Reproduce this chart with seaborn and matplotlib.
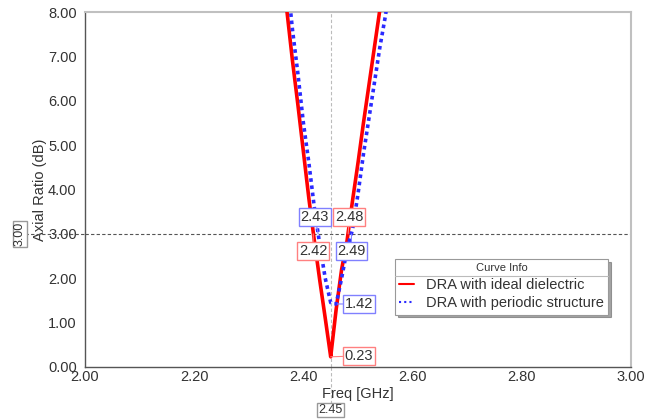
import numpy as np
import pandas as pd
import seaborn as sns
import matplotlib.pyplot as plt
from matplotlib.ticker import MultipleLocator, FormatStrFormatter
from matplotlib.lines import Line2D

# ---- data ----
freq_ideal = [2.36, 2.37, 2.38, 2.39, 2.40, 2.41, 2.42, 2.43, 2.44, 2.45,
              2.46, 2.47, 2.48, 2.49, 2.50, 2.51, 2.52, 2.53, 2.54, 2.55]
ar_ideal = [9.0, 8.0, 6.9, 5.9, 4.85, 3.8, 2.85, 1.95, 1.1, 0.23,
            1.3, 2.2, 2.85, 3.75, 4.6, 5.5, 6.35, 7.2, 8.05, 8.9]
freq_periodic = [2.36, 2.37, 2.38, 2.39, 2.40, 2.41, 2.42, 2.43, 2.44, 2.45,
                 2.46, 2.47, 2.48, 2.49, 2.50, 2.51, 2.52, 2.53, 2.54, 2.55, 2.56]
ar_periodic = [9.8, 8.8, 7.6, 6.6, 5.5, 4.6, 3.6, 2.75, 2.0, 1.45,
               1.42, 2.0, 2.65, 3.1, 3.9, 4.8, 5.6, 6.4, 7.2, 7.9, 8.7]
series_names = ["DRA with ideal dielectric", "DRA with periodic structure"]
x_ticks = [2.00, 2.20, 2.40, 2.60, 2.80, 3.00]
y_ticks = [0, 1, 2, 3, 4, 5, 6, 7, 8]
# markers: (label, point x, point y, box x, box y, series index)
markers = [
    ("2.43", 2.427, 3.0, 2.421, 3.38, 1),
    ("2.48", 2.482, 3.0, 2.484, 3.38, 0),
    ("2.42", 2.418, 3.0, 2.4176, 2.61, 0),
    ("2.49", 2.488, 3.0, 2.488, 2.61, 1),
    ("1.42", 2.462, 1.42, 2.502, 1.42, 1),
    ("0.23", 2.450, 0.23, 2.502, 0.25, 0),
]
ref_y = 3.00
ref_x = 2.45

df = pd.concat([
    pd.DataFrame({"Freq": freq_ideal, "AR": ar_ideal, "Curve": series_names[0]}),
    pd.DataFrame({"Freq": freq_periodic, "AR": ar_periodic, "Curve": series_names[1]}),
])

sns.set_theme(style="white")
plt.rcParams['font.family'] = ['Liberation Sans', 'DejaVu Sans']

fig = plt.figure(figsize=(6.57, 4.20), dpi=100)
ax = fig.add_axes([85/657, 1-367/420, (631-85)/657, (367-12)/420])

red = "#ff0000"
blue = "#2a2aff"
ax.axhline(ref_y, color="#555555", lw=0.8, ls=(0, (3, 2)), zorder=1)
ax.axvline(ref_x, color="#bbbbbb", lw=0.8, ls=(0, (3, 2)), zorder=1)

sns.lineplot(data=df, x="Freq", y="AR", hue="Curve", style="Curve",
             palette=[red, blue], dashes=[(1, 0), (1, 1)], lw=2.6,
             ax=ax, legend=False, sort=False, zorder=3)

ax.set_xlim(2.0, 3.0)
ax.set_ylim(0, 8)
ax.set_xticks(x_ticks)
ax.set_yticks(y_ticks)
ax.xaxis.set_major_formatter(FormatStrFormatter('%.2f'))
ax.yaxis.set_major_formatter(FormatStrFormatter('%.2f'))
ax.xaxis.set_minor_locator(MultipleLocator(0.04))
ax.yaxis.set_minor_locator(MultipleLocator(0.5))
ax.tick_params(axis='x', which='major', direction='in', length=0, pad=2,
               labelsize=10.5, colors='#333333', labelcolor='#333333')
ax.tick_params(axis='x', which='minor', direction='in', length=3, color='#666666')
ax.tick_params(axis='y', which='major', direction='out', length=5, pad=1,
               labelsize=10.5, color='#666666', labelcolor='#333333')
ax.tick_params(axis='y', which='minor', direction='out', length=3, color='#666666')
ax.set_xlabel("Freq [GHz]", fontsize=10.5, color='#333333', labelpad=2)
ax.set_ylabel("Axial Ratio (dB)", fontsize=10.5, color='#333333', labelpad=1)

for side in ['left', 'bottom']:
    ax.spines[side].set_color('#555555')
    ax.spines[side].set_linewidth(1.0)
for side in ['top', 'right']:
    ax.spines[side].set_color('#c0c0c0')
    ax.spines[side].set_linewidth(1.5)

edge_cols = ["#ff8080", "#8080ff"]
for lab, px, py, bx, by, si in markers:
    ax.annotate(lab, xy=(px, py), xytext=(bx, by), textcoords='data',
                fontsize=10.5, color='#333333', ha='center', va='center',
                bbox=dict(boxstyle='square,pad=0.12', fc='white', ec=edge_cols[si], lw=1),
                arrowprops=dict(arrowstyle='-', color=edge_cols[si], lw=0.8,
                                shrinkA=0, shrinkB=0),
                zorder=5)

# reference line extensions and labels outside the axes
ax.plot([2.0 - 60/546, 2.0], [ref_y, ref_y], color="#555555", lw=0.8,
        ls=(0, (3, 2)), clip_on=False, zorder=1)
ax.text(2.0 - 65/546, ref_y, "3.00", rotation=90, fontsize=9, color='#333333',
        ha='center', va='center',
        bbox=dict(boxstyle='square,pad=0.1', fc='white', ec='#999999', lw=1))
ax.plot([ref_x, ref_x], [0, -40/44.375], color="#bbbbbb", lw=0.8,
        ls=(0, (3, 2)), clip_on=False, zorder=1)
ax.text(ref_x, -43/44.375, "2.45", fontsize=9, color='#333333',
        ha='center', va='center',
        bbox=dict(boxstyle='square,pad=0.1', fc='white', ec='#999999', lw=1))

# legend
handles = [Line2D([], [], color=red, lw=1.5),
           Line2D([], [], color=blue, lw=1.5, ls=(0, (1, 1.5)))]
leg = ax.legend(handles, series_names, title="Curve Info", loc='upper left',
                bbox_to_anchor=((395-85)/546, (367-259)/355), fontsize=10.5,
                title_fontsize=8, frameon=True, fancybox=False, shadow=True,
                handlelength=1.0, handletextpad=0.8, borderpad=0.3,
                labelspacing=0.3, borderaxespad=0, framealpha=1)
leg.get_frame().set_edgecolor('#999999')
leg.get_frame().set_linewidth(0.8)
for t in leg.get_texts():
    t.set_color('#333333')
leg.get_title().set_color('#333333')
leg.set_zorder(10)
fig.canvas.draw()
bb = leg.get_window_extent().transformed(fig.transFigure.inverted())
tb = leg.get_title().get_window_extent().transformed(fig.transFigure.inverted())
fig.add_artist(Line2D([bb.x0, bb.x1], [tb.y0 - 0.006, tb.y0 - 0.006],
                      color='#bbbbbb', lw=0.8, zorder=11))

fig.savefig("out.png", dpi=100)
